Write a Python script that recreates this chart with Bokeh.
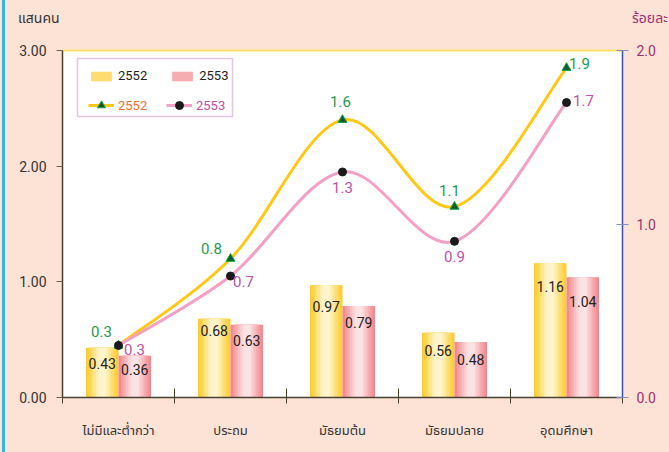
import numpy as np
from bokeh.plotting import figure
from bokeh.layouts import column
from bokeh.models import (Range1d, LinearAxis, FixedTicker, ColumnDataSource, Legend,
                          LegendItem, Div, BoxAnnotation, PrintfTickFormatter)
from bokeh.core.properties import value
from bokeh.embed import file_html
from bokeh.resources import INLINE

categories = ["ไม่มีและต่ำกว่า", "ประถม", "มัธยมต้น", "มัธยมปลาย", "อุดมศึกษา"]
bars_2552 = [0.43, 0.68, 0.97, 0.56, 1.16]
bars_2553 = [0.36, 0.63, 0.79, 0.48, 1.04]
pct_2552 = [0.3, 0.8, 1.6, 1.1, 1.9]
pct_2553 = [0.3, 0.7, 1.3, 0.9, 1.7]
left_ticks = [0, 1, 2, 3]
right_ticks = [0, 1, 2]
left_title = "แสนคน"
right_title = "ร้อยละ"

# label offsets (style, screen px)
lab52_dx = [-17, -19, -2, -5, 13]
lab52_dy = [-14, -10, -18, -16, -4]
lab53_dx = [16, 13, 0, 0, 17]
lab53_dy = [4, 5, 16, 15, -2]
barlab52_dy = [16, 12, 21, 18, 23]
barlab53_dy = [14, 16, 16, 18, 24]

FONT_S = "Tahoma, Noto Sans Thai, Open Sans, sans-serif"
NUM_S = "Roboto"
NUMFONT = value(NUM_S)
BG = "#FDE2D6"
BG_CSS = f"linear-gradient(to right, {BG} 2px, #30B8E0 2px, #30B8E0 5px, {BG} 5px)"

W, H, HEAD = 669, 452, 40

header = Div(
    text=(f"<div style='position:relative;width:{W}px;height:{HEAD}px;"
          f"font-family:Tahoma, \"Noto Sans Thai\", sans-serif;font-size:14px;'>"
          f"<span style='position:absolute;left:18px;top:9px;color:#333333;'>{left_title}</span>"
          f"<span style='position:absolute;left:632px;top:9px;color:#A03070;white-space:nowrap;'>{right_title}</span>"
          f"</div>"),
    width=W, height=HEAD, margin=0, styles={"background": BG_CSS})

p = figure(width=W, height=H - HEAD, output_backend="svg", toolbar_location=None,
           x_range=Range1d(0, 5), y_range=Range1d(0, 3),
           x_axis_location=None, y_axis_location=None, margin=0,
           min_border_left=62, min_border_right=47, min_border_top=10, min_border_bottom=55)
p.styles = {"background": BG_CSS}
p.extra_y_ranges = {"pct": Range1d(0, 2)}
p.grid.visible = False
p.background_fill_color = "white"
p.border_fill_color = None
p.border_fill_alpha = 0
p.outline_line_color = None

n = len(categories)
xc = [i + 0.5 for i in range(n)]
bw = 0.29
src = ColumnDataSource(dict(
    x52=[x - bw / 2 for x in xc], x53=[x + bw / 2 for x in xc], xc=xc,
    b52=bars_2552, b53=bars_2553,
    t52=[f"{v:.2f}" for v in bars_2552], t53=[f"{v:.2f}" for v in bars_2553],
    p52=pct_2552, p53=pct_2553,
    l52=[f"{v:.1f}" for v in pct_2552], l53=[f"{v:.1f}" for v in pct_2553],
    dx52=lab52_dx, dy52=lab52_dy, dx53=lab53_dx, dy53=lab53_dy,
    bdy52=barlab52_dy, bdy53=barlab53_dy,
))

def mix(c1, c2, t):
    a = [int(c1[i:i + 2], 16) for i in (1, 3, 5)]
    b = [int(c2[i:i + 2], 16) for i in (1, 3, 5)]
    return "#%02x%02x%02x" % tuple(round(a[k] + (b[k] - a[k]) * t) for k in range(3))

fracs = [1.0, 0.85, 0.7, 0.55, 0.4, 0.25]
bar_r = {}
for key, xkey, edge, centre in [("52", "x52", "#FFCC33", "#FFF5CC"), ("53", "x53", "#F28A90", "#FDE2E4")]:
    rs = []
    for j, f in enumerate(fracs):
        c = mix(edge, centre, j / (len(fracs) - 1))
        r = p.vbar(x=xkey, top="b" + key, bottom=0, width=bw * f, source=src,
                   fill_color=c, line_color=None)
        rs.append(r)
    bar_r[key] = rs

p.text(x="x52", y="b52", text="t52", source=src, text_align="center", text_baseline="middle",
       y_offset="bdy52", text_font=NUMFONT, text_font_size="14px", text_color="#222222")
p.text(x="x53", y="b53", text="t53", source=src, text_align="center", text_baseline="middle",
       y_offset="bdy53", text_font=NUMFONT, text_font_size="14px", text_color="#222222")

# smooth curves via bezier segments (Excel-style smoothing)
def bez(xs, ys):
    m = len(xs)
    P = list(zip(xs, ys))
    d = dict(x0=[], y0=[], x1=[], y1=[], cx0=[], cy0=[], cx1=[], cy1=[])
    for i in range(m - 1):
        pm = P[i - 1] if i > 0 else P[i]
        p0, p1 = P[i], P[i + 1]
        p2 = P[i + 2] if i + 2 < m else P[i + 1]
        d["x0"].append(p0[0]); d["y0"].append(p0[1])
        d["x1"].append(p1[0]); d["y1"].append(p1[1])
        d["cx0"].append(p0[0] + (p1[0] - pm[0]) / 6); d["cy0"].append(p0[1] + (p1[1] - pm[1]) / 6)
        d["cx1"].append(p1[0] - (p2[0] - p0[0]) / 6); d["cy1"].append(p1[1] - (p2[1] - p0[1]) / 6)
    return ColumnDataSource(d)

c52 = p.bezier(source=bez(xc, pct_2552), x0="x0", y0="y0", x1="x1", y1="y1", cx0="cx0", cy0="cy0",
               cx1="cx1", cy1="cy1", line_color="#FFC814", line_width=3, y_range_name="pct")
c53 = p.bezier(source=bez(xc, pct_2553), x0="x0", y0="y0", x1="x1", y1="y1", cx0="cx0", cy0="cy0",
               cx1="cx1", cy1="cy1", line_color="#F3A0C6", line_width=3, y_range_name="pct")
m52 = p.scatter(x="xc", y="p52", source=src, marker="triangle", size=9, fill_color="#0E5A2A",
                line_color="#17A34A", line_width=1, y_range_name="pct")
m53 = p.scatter(x="xc", y="p53", source=src, marker="circle", size=8, fill_color="#1A1A1A",
                line_color="#1A1A1A", y_range_name="pct")
# legend proxies (line + marker)
l52 = p.line(x="xc", y="p52", source=src, line_color="#FFC814", line_width=3, y_range_name="pct", visible=False)
l53 = p.line(x="xc", y="p53", source=src, line_color="#F3A0C6", line_width=3, y_range_name="pct", visible=False)

p.text(x="xc", y="p52", text="l52", source=src, x_offset="dx52", y_offset="dy52", text_align="center",
       text_baseline="middle", text_font=NUMFONT, text_font_size="15px", text_color="#1E9A4C",
       y_range_name="pct")
p.text(x="xc", y="p53", text="l53", source=src, x_offset="dx53", y_offset="dy53", text_align="center",
       text_baseline="middle", text_font=NUMFONT, text_font_size="15px", text_color="#C050A8",
       y_range_name="pct")

# axes
ax_b = LinearAxis(ticker=FixedTicker(ticks=xc, minor_ticks=list(range(n + 1))),
                  major_label_overrides={x: c for x, c in zip(xc, categories)})
ax_b.major_tick_line_color = None
ax_b.minor_tick_in = 9
ax_b.minor_tick_out = 6
ax_b.minor_tick_line_color = "#4A4030"
ax_b.axis_line_color = "#4A4030"
ax_b.axis_line_width = 1.5
ax_b.major_label_standoff = 17
ax_b.major_label_text_font = FONT_S
ax_b.major_label_text_font_size = "13px"
ax_b.major_label_text_color = "#333333"
p.add_layout(ax_b, "below")

ax_l = LinearAxis(ticker=FixedTicker(ticks=left_ticks, minor_ticks=[]),
                  formatter=PrintfTickFormatter(format="%.2f"))
ax_l.axis_line_color = "#4A4030"
ax_l.axis_line_width = 1.5
ax_l.major_tick_in = 0
ax_l.major_tick_out = 6
ax_l.major_tick_line_color = "#6A6050"
ax_l.major_label_standoff = 10
ax_l.major_label_text_font = NUM_S
ax_l.major_label_text_font_size = "14px"
ax_l.major_label_text_color = "#333333"
p.add_layout(ax_l, "left")

ax_r = LinearAxis(y_range_name="pct", ticker=FixedTicker(ticks=right_ticks, minor_ticks=[]),
                  formatter=PrintfTickFormatter(format="%.1f"))
ax_r.axis_line_color = "#3A50B0"
ax_r.axis_line_width = 1.5
ax_r.major_tick_in = 6
ax_r.major_tick_out = 6
ax_r.major_tick_line_color = "#8090C0"
ax_r.major_label_standoff = 8
ax_r.major_label_text_font = NUM_S
ax_r.major_label_text_font_size = "14px"
ax_r.major_label_text_color = "#A03070"
p.add_layout(ax_r, "right")

ax_t = LinearAxis(ticker=FixedTicker(ticks=[], minor_ticks=[]))
ax_t.axis_line_color = "#FFE066"
ax_t.axis_line_width = 2
ax_t.major_label_text_font_size = "0px"
p.add_layout(ax_t, "above")

# legend
def mk_leg(items, color, loc, gh):
    lg = Legend(items=items, location=loc, orientation="horizontal", padding=3, margin=0,
                spacing=22, label_standoff=4, glyph_width=26, glyph_height=gh, label_height=gh,
                background_fill_alpha=0, border_line_color=None, label_text_font=NUM_S,
                label_text_font_size="13px", label_text_color=color)
    p.add_layout(lg, "center")
    return lg

mk_leg([LegendItem(label="2552", renderers=[bar_r["52"][2]]),
        LegendItem(label="2553", renderers=[bar_r["53"][2]])], "#222222", (26, 314), 12)
mk_leg([LegendItem(label="2552", renderers=[l52, m52])], "#F07030", (26, 282), 20)
mk_leg([LegendItem(label="2553", renderers=[l53, m53])], "#C050A8", (104, 282), 20)

p.add_layout(BoxAnnotation(left=15, right=170, top=339, bottom=281, left_units="screen",
                           right_units="screen", top_units="screen", bottom_units="screen",
                           fill_alpha=0, line_color="#9B4C9B", line_width=1.5))

layout = column(header, p, spacing=0, margin=0)
open("out.html", "w").write(file_html(layout, INLINE))
